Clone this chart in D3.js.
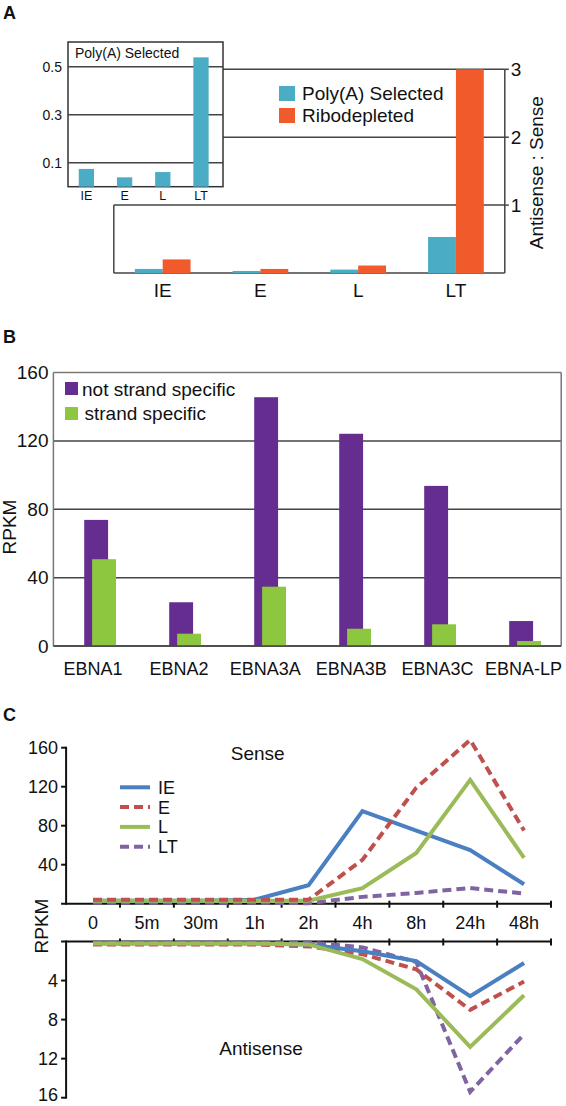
<!DOCTYPE html>
<html><head><meta charset="utf-8">
<script src="https://cdn.jsdelivr.net/npm/d3@7"></script>
<style>
body{margin:0;background:#fff}
svg{display:block}
text{font-family:"Liberation Sans",Arial,Helvetica,sans-serif;fill:#111}
</style>
</head><body>
<svg id="chart" width="566" height="1106"></svg>
<script>
// ---------- DATA ----------
// Panel A
const groupsA = ["IE", "E", "L", "LT"];
const insetPolyA = [0.074, 0.039, 0.061, 0.539];
const insetTicks = [0.1, 0.3, 0.5];
const ratioPolyA = [0.06, 0.03, 0.05, 0.53];
const ratioRibo = [0.2, 0.06, 0.11, 3.0];
const ratioTicks = [1, 2, 3];
const legendA = ["Poly(A) Selected", "Ribodepleted"];
// Panel B
const genes = ["EBNA1", "EBNA2", "EBNA3A", "EBNA3B", "EBNA3C", "EBNA-LP"];
const notStrandSpecific = [73.8, 25.6, 145.6, 124.2, 93.7, 14.6];
const strandSpecific = [50.8, 7.2, 34.7, 10.1, 12.7, 2.9];
const ticksB = [0, 40, 80, 120, 160];
const legendB = ["not strand specific", "strand specific"];
// Panel C
const times = ["0", "5m", "30m", "1h", "2h", "4h", "8h", "24h", "48h"];
const seriesC = ["IE", "E", "L", "LT"];
const senseIE = [3, 3, 3, 4, 19, 95, 75, 55, 20];
const senseE  = [4, 4, 4, 4, 4, 45, 119, 168, 75];
const senseL  = [3, 3, 3, 3, 3, 16, 52, 127, 47];
const senseLT = [1, 1, 1, 1, 0.5, 7, 11, 16, 10.5];
const antiIE = [0.2, 0.2, 0.2, 0.2, 0.3, 1.0, 2.0, 5.6, 2.2];
const antiE  = [0.3, 0.3, 0.3, 0.3, 0.5, 1.3, 2.85, 7.0, 4.1];
const antiL  = [0.2, 0.2, 0.2, 0.2, 0.3, 1.8, 4.9, 10.8, 5.5];
const antiLT = [0.1, 0.1, 0.1, 0.1, 0.1, 0.6, 2.1, 15.4, 9.5];
const senseTicks = [40, 80, 120, 160];
const antiTicks = [4, 8, 12, 16];

// ---------- STYLE ----------
const C_BLUE = "#4BACC6", C_ORANGE = "#F15A2B";
const C_PURPLE = "#662D91", C_GREEN = "#8DC63F";
const lineColors = {IE: "#4A7FC1", E: "#C0504D", L: "#9BBB59", LT: "#8064A2"};
const lineDash = {IE: null, E: "9,5", L: null, LT: "9,5"};
const GRID = "#444";

const svg = d3.select("#chart");

[["A", 18.5], ["B", 343], ["C", 721]].forEach(([t, y]) => {
  svg.append("text").attr("x", 3).attr("y", y).attr("font-size", 18)
    .attr("font-weight", "bold").text(t);
});

// ================= PANEL A =================
const gA = svg.append("g");
const xA = d3.scaleBand().domain(groupsA).range([113.8, 504.8]).paddingInner(0.43).paddingOuter(0.215);
const yA = d3.scaleLinear().domain([0, 3]).range([273, 69.3]);
const xA2 = d3.scaleBand().domain(["p", "r"]).range([0, xA.bandwidth()]);

ratioTicks.forEach(v => {
  gA.append("line").attr("x1", xA.range()[0]).attr("x2", xA.range()[1])
    .attr("y1", yA(v)).attr("y2", yA(v)).attr("stroke", GRID).attr("stroke-width", 1.5);
});
gA.append("line").attr("x1", xA.range()[0]).attr("x2", xA.range()[0])
  .attr("y1", yA(1)).attr("y2", yA(0)).attr("stroke", GRID).attr("stroke-width", 1.5);
gA.append("line").attr("x1", xA.range()[0]).attr("x2", xA.range()[1])
  .attr("y1", yA(0)).attr("y2", yA(0)).attr("stroke", GRID).attr("stroke-width", 1.5);
groupsA.forEach((g, i) => {
  gA.append("rect").attr("x", xA(g) + xA2("p")).attr("width", xA2.bandwidth())
    .attr("y", yA(ratioPolyA[i])).attr("height", yA(0) - yA(ratioPolyA[i])).attr("fill", C_BLUE);
  gA.append("rect").attr("x", xA(g) + xA2("r")).attr("width", xA2.bandwidth())
    .attr("y", yA(ratioRibo[i])).attr("height", yA(0) - yA(ratioRibo[i])).attr("fill", C_ORANGE);
  gA.append("text").attr("x", xA(g) + xA.bandwidth() / 2).attr("y", 297)
    .attr("text-anchor", "middle").attr("font-size", 19).text(g);
});
const xR = xA.range()[1];
gA.append("line").attr("x1", xR).attr("x2", xR).attr("y1", yA(3)).attr("y2", yA(0))
  .attr("stroke", GRID).attr("stroke-width", 1.5);
ratioTicks.forEach(v => {
  gA.append("line").attr("x1", xR).attr("x2", xR + 4).attr("y1", yA(v)).attr("y2", yA(v))
    .attr("stroke", GRID).attr("stroke-width", 1.5);
  gA.append("text").attr("x", xR + 6).attr("y", yA(v) + 6.5).attr("font-size", 19).text(v);
});
gA.append("text").attr("transform", `translate(543,${(yA(3) + 248) / 2 + 14}) rotate(-90)`)
  .attr("text-anchor", "middle").attr("font-size", 19).text("Antisense : Sense");
legendA.forEach((t, i) => {
  gA.append("rect").attr("x", 279).attr("y", 86 + i * 22).attr("width", 16).attr("height", 15)
    .attr("fill", i === 0 ? C_BLUE : C_ORANGE);
  gA.append("text").attr("x", 302).attr("y", 100 + i * 22).attr("font-size", 19).text(t);
});

// inset
const yIn = d3.scaleLinear().domain([0, 0.5]).range([186.7, 66.7]);
const xIn = d3.scaleBand().domain(groupsA).range([67.3, 220.1]).paddingInner(0.6).paddingOuter(0.3);
gA.append("rect").attr("x", 68).attr("y", 42).attr("width", 155).attr("height", yIn(0) - 42)
  .attr("fill", "#fff").attr("stroke", "#333").attr("stroke-width", 1.5);
insetTicks.forEach(v => {
  gA.append("line").attr("x1", 68).attr("x2", 223).attr("y1", yIn(v)).attr("y2", yIn(v))
    .attr("stroke", GRID).attr("stroke-width", 1.5);
  gA.append("text").attr("x", 62).attr("y", yIn(v) + 5).attr("text-anchor", "end")
    .attr("font-size", 14).text(v.toFixed(1));
});
groupsA.forEach((g, i) => {
  gA.append("rect").attr("x", xIn(g)).attr("width", xIn.bandwidth())
    .attr("y", yIn(insetPolyA[i])).attr("height", yIn(0) - yIn(insetPolyA[i])).attr("fill", C_BLUE);
  gA.append("text").attr("x", xIn(g) + xIn.bandwidth() / 2).attr("y", 199.5)
    .attr("text-anchor", "middle").attr("font-size", 12.5).text(g);
});
gA.append("text").attr("x", 75).attr("y", 58).attr("font-size", 14).text("Poly(A) Selected");

// ================= PANEL B =================
const gB = svg.append("g");
const yB = d3.scaleLinear().domain([0, 160]).range([646, 372.6]);
const boxB = [53.4, 561.2];
const xB = d3.scaleBand().domain(genes).range([57.6, 567.6]);
const xBlab = d3.scalePoint().domain(genes).range([93, 523.6]);
ticksB.forEach(v => {
  gB.append("line").attr("x1", boxB[0]).attr("x2", boxB[1]).attr("y1", yB(v)).attr("y2", yB(v))
    .attr("stroke", v === 160 ? "#777" : GRID).attr("stroke-width", 1.5);
  gB.append("text").attr("x", 48.5).attr("y", yB(v) + 6.5).attr("text-anchor", "end")
    .attr("font-size", 19).text(v);
});
[boxB[0], boxB[1]].forEach(x => {
  gB.append("line").attr("x1", x).attr("x2", x).attr("y1", yB(160)).attr("y2", yB(0))
    .attr("stroke", "#777").attr("stroke-width", 1.5);
});
const bwB = xB.step() * 0.281, offB = xB.step() * 0.093;
genes.forEach((g, i) => {
  const c = xB(g) + xB.bandwidth() / 2;
  gB.append("rect").attr("x", c - 15.9).attr("width", bwB)
    .attr("y", yB(notStrandSpecific[i])).attr("height", yB(0) - yB(notStrandSpecific[i])).attr("fill", C_PURPLE);
  gB.append("rect").attr("x", c - 15.9 + offB).attr("width", bwB)
    .attr("y", yB(strandSpecific[i])).attr("height", yB(0) - yB(strandSpecific[i])).attr("fill", C_GREEN);
  gB.append("text").attr("x", xBlab(g)).attr("y", 675).attr("text-anchor", "middle")
    .attr("font-size", 18).text(g);
});
gB.append("line").attr("x1", boxB[0]).attr("x2", boxB[1]).attr("y1", yB(0)).attr("y2", yB(0))
  .attr("stroke", GRID).attr("stroke-width", 1.5);
legendB.forEach((t, i) => {
  gB.append("rect").attr("x", 65).attr("y", 382 + i * 25).attr("width", 13).attr("height", 13)
    .attr("fill", i === 0 ? C_PURPLE : C_GREEN);
  gB.append("text").attr("x", 82 + i * 2.5).attr("y", 395.5 + i * 24).attr("font-size", 19).text(t);
});
gB.append("text").attr("transform", "translate(15.5,527) rotate(-90)").attr("text-anchor", "middle")
  .attr("font-size", 19).text("RPKM");

// ================= PANEL C =================
const gC = svg.append("g");
const xC = d3.scaleBand().domain(times).range([66.1, 551]);
const yS = d3.scaleLinear().domain([0, 160]).range([903.7, 747.7]);
const yAS = d3.scaleLinear().domain([0, 16]).range([941.5, 1097.7]);
const x0 = xC.range()[0], x1 = xC.range()[1];
const AX = "#111";

function axisBlock(yScale, ticks) {
  const y0 = yScale(0);
  const yEnd = yScale(ticks[ticks.length - 1]);
  gC.append("line").attr("x1", x0).attr("x2", x0).attr("y1", Math.min(y0, yEnd) - 1).attr("y2", Math.max(y0, yEnd) + 1)
    .attr("stroke", AX).attr("stroke-width", 2);
  gC.append("line").attr("x1", x0 - 5).attr("x2", x1).attr("y1", y0).attr("y2", y0)
    .attr("stroke", AX).attr("stroke-width", 2);
  ticks.forEach(v => {
    gC.append("line").attr("x1", x0 - 5).attr("x2", x0).attr("y1", yScale(v)).attr("y2", yScale(v))
      .attr("stroke", AX).attr("stroke-width", 2);
    gC.append("text").attr("x", 58).attr("y", Math.min(yScale(v) + 6, 1101))
      .attr("text-anchor", "end").attr("font-size", 18).text(v);
  });
  times.forEach(t => {
    const xb = xC(t) + xC.step();
    gC.append("line").attr("x1", xb).attr("x2", xb).attr("y1", y0 - 3).attr("y2", y0 + 4)
      .attr("stroke", AX).attr("stroke-width", 2);
  });
}
axisBlock(yS, senseTicks);
axisBlock(yAS, antiTicks);

times.forEach(t => {
  gC.append("text").attr("x", xC(t) + xC.bandwidth() / 2).attr("y", 929)
    .attr("text-anchor", "middle").attr("font-size", 18).text(t);
});

const senseData = {IE: senseIE, E: senseE, L: senseL, LT: senseLT};
const antiData = {IE: antiIE, E: antiE, L: antiL, LT: antiLT};
const cx = t => xC(t) + xC.bandwidth() / 2;
function drawLines(data, yScale, order) {
  order.forEach(s => {
    const line = d3.line().x((d, i) => cx(times[i])).y(d => yScale(d));
    gC.append("path").attr("d", line(data[s])).attr("fill", "none")
      .attr("stroke", lineColors[s]).attr("stroke-width", 4)
      .attr("stroke-dasharray", lineDash[s]);
  });
}
drawLines(senseData, yS, ["LT", "IE", "L", "E"]);
drawLines(antiData, yAS, ["LT", "E", "IE", "L"]);

seriesC.forEach((s, i) => {
  const y = 787.3 + i * 19.8;
  gC.append("line").attr("x1", 120).attr("x2", 150).attr("y1", y).attr("y2", y)
    .attr("stroke", lineColors[s]).attr("stroke-width", 4).attr("stroke-dasharray", lineDash[s]);
  gC.append("text").attr("x", 158).attr("y", y + 6.5).attr("font-size", 18).text(s);
});
gC.append("text").attr("x", 257.7).attr("y", 759.5).attr("text-anchor", "middle").attr("font-size", 19).text("Sense");
gC.append("text").attr("x", 261).attr("y", 1055).attr("text-anchor", "middle").attr("font-size", 19).text("Antisense");
gC.append("text").attr("transform", "translate(48,926) rotate(-90)").attr("text-anchor", "middle")
  .attr("font-size", 19).text("RPKM");
</script>
</body></html>
